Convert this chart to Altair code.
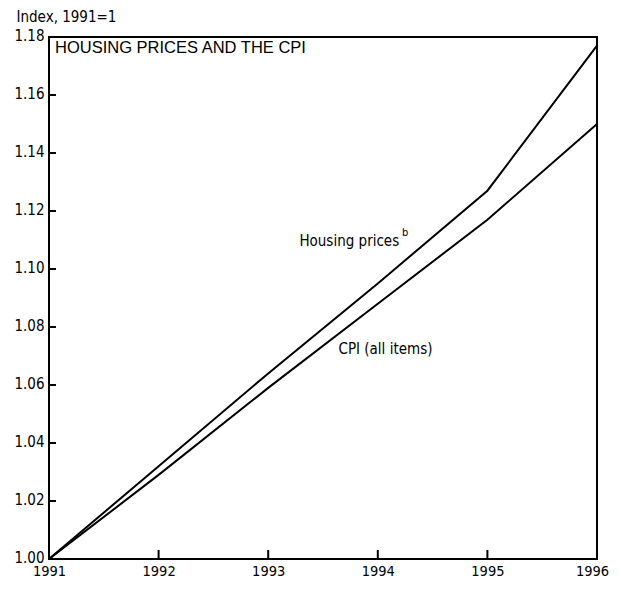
import altair as alt
import pandas as pd

years = [1991, 1992, 1993, 1994, 1995, 1996]
housing = [1.000, 1.032, 1.064, 1.095, 1.127, 1.177]
cpi = [1.000, 1.029, 1.059, 1.088, 1.117, 1.150]
y_ticks = [1.00, 1.02, 1.04, 1.06, 1.08, 1.10, 1.12, 1.14, 1.16, 1.18]

NARROW = "Liberation Sans Narrow, DejaVu Sans Condensed, Arial Narrow, sans-serif"
WIDE = "Liberation Sans, Arial, Helvetica, sans-serif"

rows = []
for yr, h, c in zip(years, housing, cpi):
    rows.append({"year": yr, "value": h, "series": "Housing prices"})
    rows.append({"year": yr, "value": c, "series": "CPI (all items)"})
df = pd.DataFrame(rows)

xscale = alt.Scale(domain=[1991, 1996], nice=False, zero=False)
yscale = alt.Scale(domain=[1.0, 1.18], nice=False, zero=False)

lines = alt.Chart(df).mark_line(color="black", strokeWidth=2).encode(
    x=alt.X("year:Q", scale=xscale,
            axis=alt.Axis(values=years, format="d", title=None, ticks=False,
                          domain=False, grid=False, labelFont=NARROW,
                          labelFontSize=14.5, labelColor="black", labelPadding=5,
                          labelFlush=False, labelOverlap=False,
                          labelOffset=alt.ExprRef("datum.value == 1996 ? -5 : 0"))),
    y=alt.Y("value:Q", scale=yscale,
            axis=alt.Axis(values=y_ticks, format=".2f", ticks=False, domain=False,
                          grid=False, labelFont=NARROW, labelFontSize=15,
                          labelColor="black", labelPadding=5, labelFlush=False,
                          labelOverlap=False, labelOffset=-2,
                          title="Index, 1991=1", titleAngle=0, titleX=-33,
                          titleY=-21, titleAlign="left", titleBaseline="middle",
                          titleFont=NARROW, titleFontSize=15,
                          titleFontWeight="normal", titleColor="black")),
    detail="series:N",
)

# inward tick marks
xt = pd.DataFrame({"year": years[1:-1]})
xticks = alt.Chart(xt).mark_rule(color="black", strokeWidth=2).encode(
    x="year:Q", y=alt.value(522), y2=alt.value(513))
yt = pd.DataFrame({"value": y_ticks[1:-1]})
yticks = alt.Chart(yt).mark_rule(color="black", strokeWidth=2).encode(
    y="value:Q", x=alt.value(0), x2=alt.value(7))

title = alt.Chart(pd.DataFrame({"t": ["HOUSING PRICES AND THE CPI"]})).mark_text(
    font=WIDE, fontSize=16.5, align="left", baseline="middle", color="black"
).encode(text="t:N", x=alt.value(6), y=alt.value(11))

label_text = ["Housing prices", "CPI (all items)"]
label_x = [1993.74, 1994.07]
label_y = [1.1097, 1.0724]
labels = alt.Chart(pd.DataFrame({"t": label_text, "x": label_x, "y": label_y})).mark_text(
    font=NARROW, fontSize=15, align="center", baseline="middle", color="black"
).encode(text="t:N", x="x:Q", y="y:Q")

sup = alt.Chart(pd.DataFrame({"t": ["b"], "x": [1994.22], "y": [1.1125]})).mark_text(
    font=NARROW, fontSize=11, align="left", baseline="middle", color="black"
).encode(text="t:N", x="x:Q", y="y:Q")

chart = alt.layer(lines, xticks, yticks, title, labels, sup).properties(
    width=548, height=522,
    autosize=alt.AutoSizeParams(type="none"),
    padding={"left": 41, "top": 29, "right": 14, "bottom": 22},
    background="white",
).configure_view(stroke="black", strokeWidth=2)

chart.save("out.html", embed_options={"renderer": "svg", "actions": False})
